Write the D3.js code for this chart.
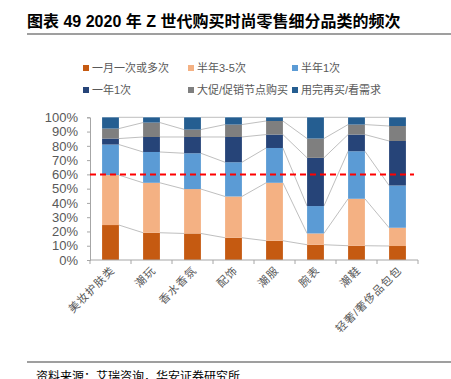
<!DOCTYPE html>
<html>
<head>
<meta charset="utf-8">
<script src="https://cdn.jsdelivr.net/npm/d3@7"></script>
<style>
body { margin: 0; background: #fff; }
svg { display: block; }
</style>
</head>
<body>
<div id="chart-area"></div>
<script>
var w = 451;
var h = 379;

// categories and series (percent of each category)
var categories = ["美妆护肤类", "潮玩", "香水香氛", "配饰", "潮服", "腕表", "潮鞋", "轻奢/奢侈品包包"];
var seriesNames = ["一月一次或多次", "半年3-5次", "半年1次", "一年1次", "大促/促销节点购买", "用完再买/看需求"];
var monthly   = [24.5, 19.1, 18.6, 15.6, 13.5, 10.7, 10.0, 9.8];
var halfYear35 = [35.0, 35.0, 31.1, 28.9, 40.6, 7.9, 32.9, 12.8];
var halfYear1 = [21.4, 21.6, 25.1, 24.0, 24.4, 19.2, 33.3, 29.6];
var yearly    = [4.2, 10.5, 11.4, 17.7, 9.4, 33.8, 11.7, 31.2];
var promo     = [7.0, 10.1, 5.2, 8.7, 9.5, 13.5, 7.0, 10.5];
var asNeeded  = [7.9, 3.7, 8.6, 5.1, 2.6, 14.9, 5.1, 6.1];
var yTicks = [0, 10, 20, 30, 40, 50, 60, 70, 80, 90, 100];
var refLine = 60;

var colors = ["#C55A11", "#F4B183", "#5B9BD5", "#264478", "#7F7F7F", "#255E91"];
var allSeries = [monthly, halfYear35, halfYear1, yearly, promo, asNeeded];

var rows = categories.map(function(c, i) {
  var r = {cat: c};
  seriesNames.forEach(function(s, j) { r[s] = allSeries[j][i]; });
  return r;
});
var stacked = d3.stack().keys(seriesNames)(rows);

var svg = d3.select('#chart-area').append('svg')
    .attr('width', w)
    .attr('height', h);

var cjk = '"Liberation Sans", "Noto Sans CJK SC", sans-serif';

// title
svg.append('text')
    .attr('x', 27)
    .attr('y', 27)
    .attr('font-size', 16)
    .attr('font-weight', 'bold')
    .attr('font-family', cjk)
    .attr('fill', '#000')
    .text("图表 49 2020 年 Z 世代购买时尚零售细分品类的频次");
svg.append('line')
    .attr('x1', 27).attr('x2', w)
    .attr('y1', 34).attr('y2', 34)
    .attr('stroke', '#7f7f7f')
    .attr('stroke-width', 1.5);

// legend
var legendPos = [[83, 68], [188, 68], [292, 68], [83, 90], [188, 90], [292, 90]];
var legend = svg.append('g');
var li = legend.selectAll('g')
    .data(seriesNames)
    .enter()
    .append('g')
    .attr('transform', (d, i) => 'translate(' + legendPos[i][0] + ',' + legendPos[i][1] + ')');
li.append('rect')
    .attr('x', 0).attr('y', -3)
    .attr('width', 6).attr('height', 6)
    .attr('fill', (d, i) => colors[i]);
li.append('text')
    .attr('x', 9)
    .attr('y', 4)
    .attr('font-size', 11)
    .attr('font-family', cjk)
    .attr('fill', '#595959')
    .text(d => d);

// scales
var x = d3.scaleBand()
    .domain(categories)
    .range([90, 418])
    .paddingInner(0.59)
    .paddingOuter(0.295);
var y = d3.scaleLinear()
    .domain([0, 100])
    .range([260, 117.3]);

// series lines between bars
var lines = svg.append('g');
var levels = stacked.map(s => s.map(d => d[1]));
levels.forEach(function(lv) {
  for (var i = 0; i < categories.length - 1; i++) {
    lines.append('line')
      .attr('x1', x(categories[i]) + x.bandwidth())
      .attr('x2', x(categories[i + 1]))
      .attr('y1', y(lv[i]))
      .attr('y2', y(lv[i + 1]))
      .attr('stroke', '#bfbfbf')
      .attr('stroke-width', 1);
  }
});

// bars
svg.append('g').selectAll('g')
    .data(stacked)
    .enter()
    .append('g')
    .attr('fill', (d, i) => colors[i])
    .selectAll('rect')
    .data(d => d)
    .enter()
    .append('rect')
    .attr('x', d => x(d.data.cat))
    .attr('y', d => y(d[1]))
    .attr('width', x.bandwidth())
    .attr('height', d => y(d[0]) - y(d[1]));

// y axis
var yAxis = svg.append('g')
    .attr('transform', 'translate(90,0)')
    .call(d3.axisLeft(y).tickValues(yTicks).tickFormat(d => d + '%').tickSize(3).tickPadding(9));
yAxis.selectAll('text')
    .attr('font-size', 13)
    .attr('font-family', '"Liberation Sans", Arial, sans-serif')
    .attr('fill', '#595959');
yAxis.selectAll('line, path').attr('stroke', '#a6a6a6');

// x axis with ticks at category boundaries
var xg = svg.append('g');
xg.append('line')
    .attr('x1', 90).attr('x2', 418)
    .attr('y1', 260).attr('y2', 260)
    .attr('stroke', '#a6a6a6');
var step = x.step();
d3.range(categories.length + 1).forEach(function(k) {
  xg.append('line')
    .attr('x1', 90 + k * step).attr('x2', 90 + k * step)
    .attr('y1', 260).attr('y2', 264)
    .attr('stroke', '#a6a6a6');
});
xg.selectAll('text.cat')
    .data(categories)
    .enter()
    .append('text')
    .attr('class', 'cat')
    .attr('transform', d => 'translate(' + (x(d) + x.bandwidth() / 2 + 5) + ',271) rotate(-45)')
    .attr('text-anchor', 'end')
    .attr('font-size', 11)
    .attr('letter-spacing', 1)
    .attr('font-family', cjk)
    .attr('fill', '#595959')
    .text(d => d);

// reference line at 60%
svg.append('line')
    .attr('x1', 90).attr('x2', 414)
    .attr('y1', y(refLine)).attr('y2', y(refLine))
    .attr('stroke', '#ff0000')
    .attr('stroke-width', 2)
    .attr('stroke-dasharray', '6,4');

// footer
svg.append('line')
    .attr('x1', 27).attr('x2', w)
    .attr('y1', 362).attr('y2', 362)
    .attr('stroke', '#7f7f7f')
    .attr('stroke-width', 1.5);
svg.append('text')
    .attr('x', 36)
    .attr('y', 381)
    .attr('font-size', 12)
    .attr('font-family', cjk)
    .attr('fill', '#000')
    .text("资料来源：艾瑞咨询，华安证券研究所");
</script>
</body>
</html>
